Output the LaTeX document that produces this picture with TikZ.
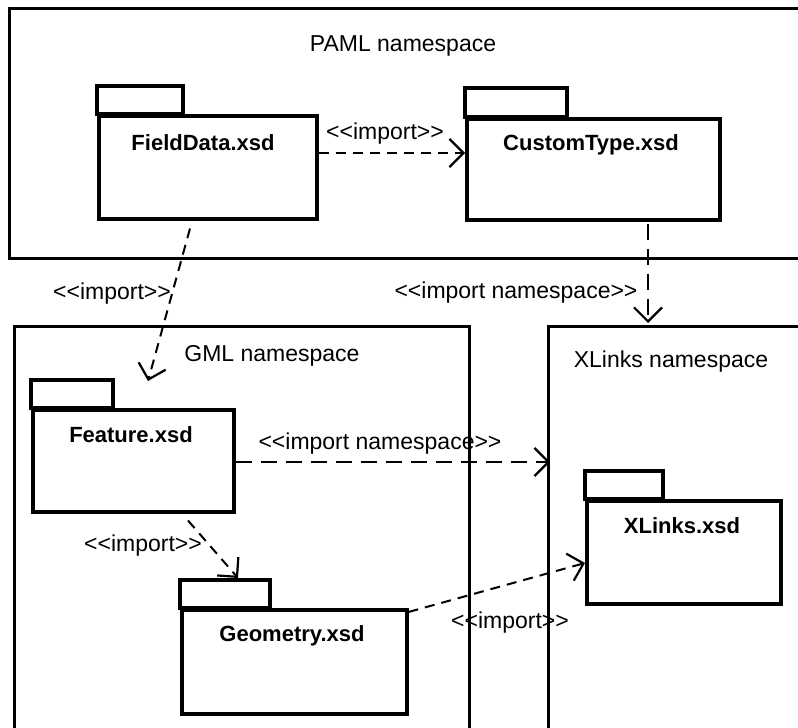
\documentclass[tikz,border=0pt]{standalone}
\usepackage{fontspec}
\setmainfont{Liberation Sans}
\usetikzlibrary{arrows.meta,calc}
\begin{document}
\begin{tikzpicture}[x=1pt,y=-1pt,
  nsbox/.style={draw=black, line width=2.5pt, anchor=north west, inner sep=0pt},
  pamlbox/.style={nsbox, line width=3pt},
  pkgbody/.style={draw=black, line width=3.5pt, anchor=north west, inner sep=0pt},
  tabbox/.style={draw=black, line width=3.5pt},
  nslabel/.style={font=\fontsize{23}{27}\selectfont, inner sep=0pt, anchor=base},
  pkglabel/.style={font=\fontsize{22}{26}\selectfont\bfseries, inner sep=0pt, anchor=base},
  deplabel/.style={font=\fontsize{23}{27}\selectfont, inner sep=0pt, anchor=base},
  dep/.style={line width=2pt, dash pattern=on 10pt off 7pt,
    -{Straight Barb[length=14pt,width=28pt,line width=2.2pt]}},
  deplong/.style={dep, dash pattern=on 16pt off 9pt}]

\useasboundingbox (0,0) rectangle (798,728);
\clip (0,0) rectangle (798,728);

% namespace containers
\node[pamlbox, minimum width=810pt, minimum height=250pt] (paml) at (8,7) {};
\node[nsbox, minimum width=455pt, minimum height=420pt] (gml) at (13,325) {};
\node[nsbox, minimum width=270pt, minimum height=420pt] (xl) at (547,325) {};

\node[nslabel] (paml-t) at (403,51) {PAML namespace};
\node[nslabel] (gml-t) at (272,361) {GML namespace};
\node[nslabel] (xl-t) at (671,367) {XLinks namespace};

% packages
\node[pkgbody, minimum width=218pt, minimum height=103pt] (fd) at (97,114) {};
\draw[tabbox] (fd.north west) rectangle ++(86,-28);
\node[pkglabel] (fd-t) at (203,150) {FieldData.xsd};

\node[pkgbody, minimum width=253pt, minimum height=101pt] (ct) at (465,117) {};
\draw[tabbox] (ct.north west) rectangle ++(102,-29);
\node[pkglabel] (ct-t) at (591,150) {CustomType.xsd};

\node[pkgbody, minimum width=201pt, minimum height=102pt] (ft) at (31,408) {};
\draw[tabbox] (ft.north west) rectangle ++(82,-28);
\node[pkglabel] (ft-t) at (131,442) {Feature.xsd};

\node[pkgbody, minimum width=225pt, minimum height=104pt] (geo) at (180,608) {};
\draw[tabbox] (geo.north west) rectangle ++(90,-28);
\node[pkglabel] (geo-t) at (292,641) {Geometry.xsd};

\node[pkgbody, minimum width=194pt, minimum height=103pt] (xsd) at (585,499) {};
\draw[tabbox] (xsd.north west) rectangle ++(78,-28);
\node[pkglabel] (xsd-t) at (682,533) {XLinks.xsd};

% dependencies
\draw[dep] ($(fd.north east)+(0,39)$) -- ($(ct.north west)+(0,36)$);
\node[deplabel] (l1) at (385,139) {<{}<import>{}>};

\draw[dep] ($(fd.south west)+(93,8)$) -- ($(ft.north west)+(117,-27)$);
\node[deplabel] (l2) at (112,299) {<{}<import>{}>};

\draw[deplong] ($(ct.south west)+(183,2)$) -- ($(xl.north west)+(101,-2)$);
\node[deplabel] (l3) at (516,298) {<{}<import namespace>{}>};

\draw[deplong] ($(ft.north east)+(0,54)$) -- ($(xl.north west)+(3,137)$);
\node[deplabel] (l4) at (380,449) {<{}<import namespace>{}>};

\draw[dep] ($(ft.south west)+(157,7)$) -- ($(geo.north west)+(58,-30)$);
\node[deplabel] (l5) at (143,551) {<{}<import>{}>};

\draw[dep] ($(geo.north east)+(0,4)$) -- ($(xsd.north west)+(0,64)$);
\node[deplabel] (l6) at (510,628) {<{}<import>{}>};

\end{tikzpicture}
\end{document}
